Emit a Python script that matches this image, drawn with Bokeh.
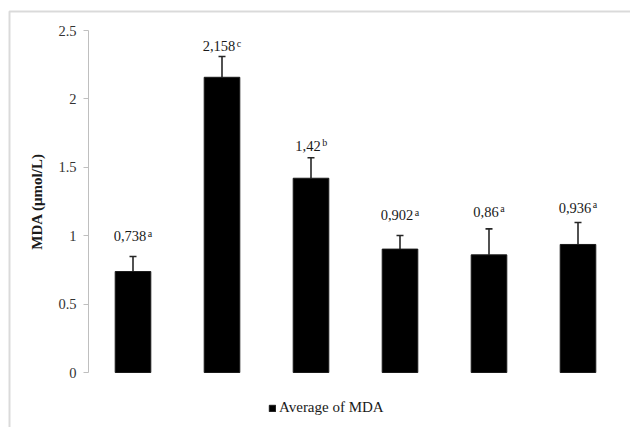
from bokeh.plotting import figure
from bokeh.models import (ColumnDataSource, Range1d, FixedTicker, Whisker, TeeHead,
                          Legend, LegendItem, BoxAnnotation)
from bokeh.core.properties import value
from bokeh.embed import file_html
from bokeh.resources import INLINE

# ---- data ----
categories = ["1", "2", "3", "4", "5", "6"]
mda_mean = [0.738, 2.158, 1.42, 0.902, 0.86, 0.936]
mda_err = [0.11, 0.152, 0.15, 0.10, 0.19, 0.16]
value_labels = ["0,738", "2,158", "1,42", "0,902", "0,86", "0,936"]
letters = ["a", "c", "b", "a", "a", "a"]
y_ticks = [0, 0.5, 1, 1.5, 2, 2.5]
y_tick_labels = ["0", "0.5", "1", "1.5", "2", "2.5"]
series_name = "Average of MDA"
y_title = "MDA (μmol/L)"

# ---- styles / layout ----
FONT = "Liberation Serif"
LBL_FS = 14.5
SUP_FS = 10
label_gap = [20, 10, 12, 20, 17, 15]  # px between error cap and label centre
W, H = 630, 427
TOP, LEFT, RIGHT = 30, 88, 8
AXIS_PX = 342          # pixel height of 0..2.5
Y_MAX = 2.5
n = len(categories)
bottom_pad = H - TOP - AXIS_PX
y_start = -Y_MAX * bottom_pad / AXIS_PX
y_end = Y_MAX + Y_MAX * TOP / AXIS_PX
px_per_cat = (W - LEFT - RIGHT) / n
x_start = -LEFT / px_per_cat
x_end = n + RIGHT / px_per_cat
xpos = [i + 0.5 for i in range(n)]   # category slot centres


def text_width(s, fs):
    w = 0.0
    for ch in s:
        if ch.isdigit():
            w += 0.5
        elif ch in ",.":
            w += 0.25
        else:
            w += 0.46
    return w * fs


x_off_main, x_off_sup, y_off_main, y_off_sup = [], [], [], []
for lab, let, g in zip(value_labels, letters, label_gap):
    w = text_width(lab, LBL_FS)
    ws = text_width(let, SUP_FS)
    total = w + 1.5 + ws
    x_off_main.append(-total / 2)
    x_off_sup.append(-total / 2 + w + 1.5)
    y_off_main.append(-g)
    y_off_sup.append(-g - 3)

src = ColumnDataSource(dict(
    cat=categories, x=xpos, val=mda_mean,
    top=[v + e for v, e in zip(mda_mean, mda_err)],
    lab=value_labels, sup=letters,
    xom=x_off_main, xos=x_off_sup, yom=y_off_main, yos=y_off_sup,
))

p = figure(x_range=Range1d(x_start, x_end), y_range=Range1d(y_start, y_end),
           width=W, height=H, output_backend="svg", toolbar_location=None,
           min_border=0)

p.outline_line_color = None
p.grid.visible = False
p.xaxis.visible = False

# outer chart-area border (left and top edges visible)
p.add_layout(BoxAnnotation(left=9, right=W + 50, top=11, bottom=H + 50,
                           left_units="canvas", right_units="canvas",
                           top_units="canvas", bottom_units="canvas",
                           fill_alpha=0, line_color="#858585", line_width=2,
                           level="overlay"))

bars = p.vbar(x="x", top="val", width=0.4, source=src, fill_color="black",
              line_color="#1a1a1a")

p.add_layout(Whisker(base="x", upper="top", lower="val", source=src,
                     dimension="height", line_color="#262626", line_width=1.6,
                     lower_head=None,
                     upper_head=TeeHead(size=7, line_color="#262626", line_width=1.6)))

p.text(x="x", y="top", text="lab", source=src, x_offset="xom", y_offset="yom",
       text_align="left", text_baseline="middle", text_font=value(FONT),
       text_font_size=f"{LBL_FS}px", text_color="#1a1a1a")
p.text(x="x", y="top", text="sup", source=src, x_offset="xos", y_offset="yos",
       text_align="left", text_baseline="middle", text_font=value(FONT),
       text_font_size=f"{SUP_FS}px", text_color="#1a1a1a")

ax = p.yaxis[0]
ax.fixed_location = 0
ax.bounds = (0, Y_MAX)
ax.ticker = FixedTicker(ticks=y_ticks)
ax.major_label_overrides = {t: l for t, l in zip(y_ticks, y_tick_labels)}
ax.minor_tick_line_color = None
ax.major_tick_in = 0
ax.major_tick_out = 5
ax.axis_line_color = "#bfbfbf"
ax.major_tick_line_color = "#bfbfbf"
ax.major_label_text_font = FONT
ax.major_label_text_font_size = "14.5px"
ax.major_label_text_color = "#333333"
ax.major_label_standoff = 7
ax.axis_label = y_title
ax.axis_label_text_font = FONT
ax.axis_label_text_font_style = "bold"
ax.axis_label_text_font_size = "15px"
ax.axis_label_text_color = "#1a1a1a"
ax.axis_label_standoff = 10

legend = Legend(items=[LegendItem(label=series_name, renderers=[bars])],
                location=(268, 11), orientation="horizontal",
                glyph_width=8, glyph_height=8, label_height=16, label_standoff=3,
                padding=0, margin=0, spacing=0, border_line_color=None,
                background_fill_alpha=0, label_text_font=FONT,
                label_text_font_size="15px", label_text_color="#1a1a1a")
p.add_layout(legend, "center")

open("out.html", "w").write(file_html(p, INLINE))
